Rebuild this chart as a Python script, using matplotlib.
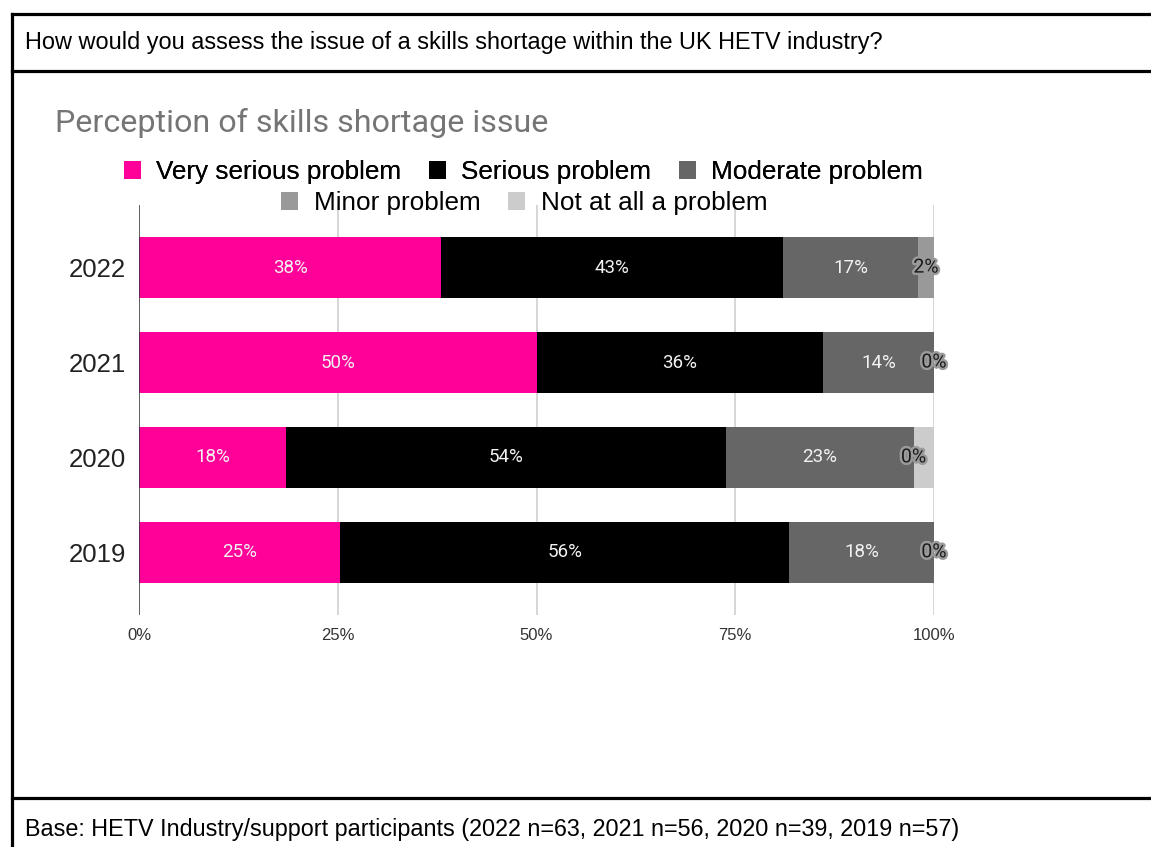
import pandas as pd
import matplotlib.pyplot as plt
import matplotlib.patheffects as pe
from matplotlib.lines import Line2D
from matplotlib.patches import Patch

#__________________________________________________________________
# Datos de la encuesta (porcentaje de respuestas por año)

years = ['2022', '2021', '2020', '2019']
categories = ['Very serious problem', 'Serious problem', 'Moderate problem',
              'Minor problem', 'Not at all a problem']
very_serious = [38, 50, 18, 25]
serious = [43, 36, 54, 56]
moderate = [17, 14, 23, 18]
minor = [2, 0, 0, 0]
not_at_all = [0, 0, 2.5, 0]

colors = ['#ff0099', '#000000', '#666666', '#999999', '#cccccc']

question = 'How would you assess the issue of a skills shortage within the UK HETV industry?'
chart_title = 'Perception of skills shortage issue'
base_note = 'Base: HETV Industry/support participants (2022 n=63, 2021 n=56, 2020 n=39, 2019 n=57)'

plt.rcParams['font.family'] = ['Liberation Sans', 'DejaVu Sans']

#__________________________________________________________________
# Inicio del script

def main():
    df = pd.DataFrame(
        list(zip(very_serious, serious, moderate, minor, not_at_all)),
        index=years, columns=categories
    )
    # barras apiladas al 100%
    share = df.div(df.sum(axis=1), axis=0) * 100

    fig = plt.figure(figsize=(11.51, 8.47), dpi=100)
    draw_frame(fig)

    ax = fig.add_axes([0.1208, 0.274, 0.6907, 0.484])
    draw_bars(ax, df, share)
    draw_legend(fig)

    fig.text(0.048, 1 - 123 / 847, chart_title, fontsize=23.2, color='#757575',
             family=['Roboto', 'DejaVu Sans'], va='center')

    fig.savefig('out.png', dpi=100)

#__________________________________________________________________
# Marco con la pregunta y la base

def draw_frame(fig):
    W, H = 1151, 847
    lw = 2.3
    def hline(y):
        fig.add_artist(Line2D([12 / W, 1.0], [1 - y / H, 1 - y / H], color='black',
                              lw=lw, transform=fig.transFigure))
    hline(14)
    hline(71)
    hline(798)
    fig.add_artist(Line2D([12 / W, 12 / W], [1 - 14 / H, 0.0], color='black',
                          lw=lw, transform=fig.transFigure))

    fig.text(25 / W, 1 - 43 / H, question, fontsize=16.9, va='center', color='black')
    fig.text(25 / W, 1 - 829 / H, base_note, fontsize=16.8, va='center', color='black')

#__________________________________________________________________
# Barras

def draw_bars(ax, df, share):
    y = list(range(len(years)))
    left = [0.0] * len(years)

    for i, cat in enumerate(categories):
        widths = share[cat].tolist()
        ax.barh(y, widths, left=left, height=0.645, color=colors[i], zorder=3)

        # la ultima serie se solapa con la anterior, no se etiqueta
        if cat != categories[-1]:
            for j in range(len(years)):
                raw = df[cat].iloc[j]
                xc = left[j] + widths[j] / 2
                txt = f'{raw:.0f}%'
                if raw >= 5:
                    ax.text(xc, y[j], txt, ha='center', va='center', fontsize=13.5,
                            color='#f2f2f2', family=['Roboto', 'DejaVu Sans'], zorder=5)
                elif i == 3:
                    t = ax.text(xc, y[j], txt, ha='center', va='center', fontsize=14,
                                color='#1a1a1a', family=['Roboto', 'DejaVu Sans'], zorder=5)
                    t.set_path_effects([pe.withStroke(linewidth=3.5, foreground='#9a9a9a')])

        left = [a + b for a, b in zip(left, widths)]

    ax.set_xlim(0, 100)
    ax.set_ylim(len(years) - 1 + 0.66, -0.66)
    ax.set_yticks(y)
    ax.set_yticklabels(years, fontsize=18.5, color='#222222')
    ax.set_xticks([0, 25, 50, 75, 100])
    ax.set_xticklabels(['0%', '25%', '50%', '75%', '100%'], fontsize=12, color='#333333')
    ax.tick_params(axis='both', length=0)
    ax.tick_params(axis='y', pad=9.5)
    ax.tick_params(axis='x', pad=9.5)

    for x in [25, 50, 75, 100]:
        ax.axvline(x, color='#cccccc', lw=1.1, zorder=1)
    ax.axvline(0, color='#333333', lw=1.1, zorder=4)

    for s in ax.spines.values():
        s.set_visible(False)

#__________________________________________________________________
# Leyenda en dos filas centradas

def draw_legend(fig):
    handles = [Patch(facecolor=c, edgecolor='none') for c in colors]
    opts = dict(loc='center', frameon=False, fontsize=18.8, handlelength=0.65,
                handleheight=0.65, handletextpad=0.6, columnspacing=1.05,
                borderaxespad=0, borderpad=0)
    leg1 = fig.legend(handles[:3], categories[:3], ncol=3,
                      bbox_to_anchor=(0.4548, 1 - 172 / 847), **opts)
    fig.legend(handles[3:], categories[3:], ncol=2,
               bbox_to_anchor=(0.4557, 1 - 203 / 847), **opts)
    fig.add_artist(leg1)

#__________________________________________________________________
# Ejecucion de codigo
main()
